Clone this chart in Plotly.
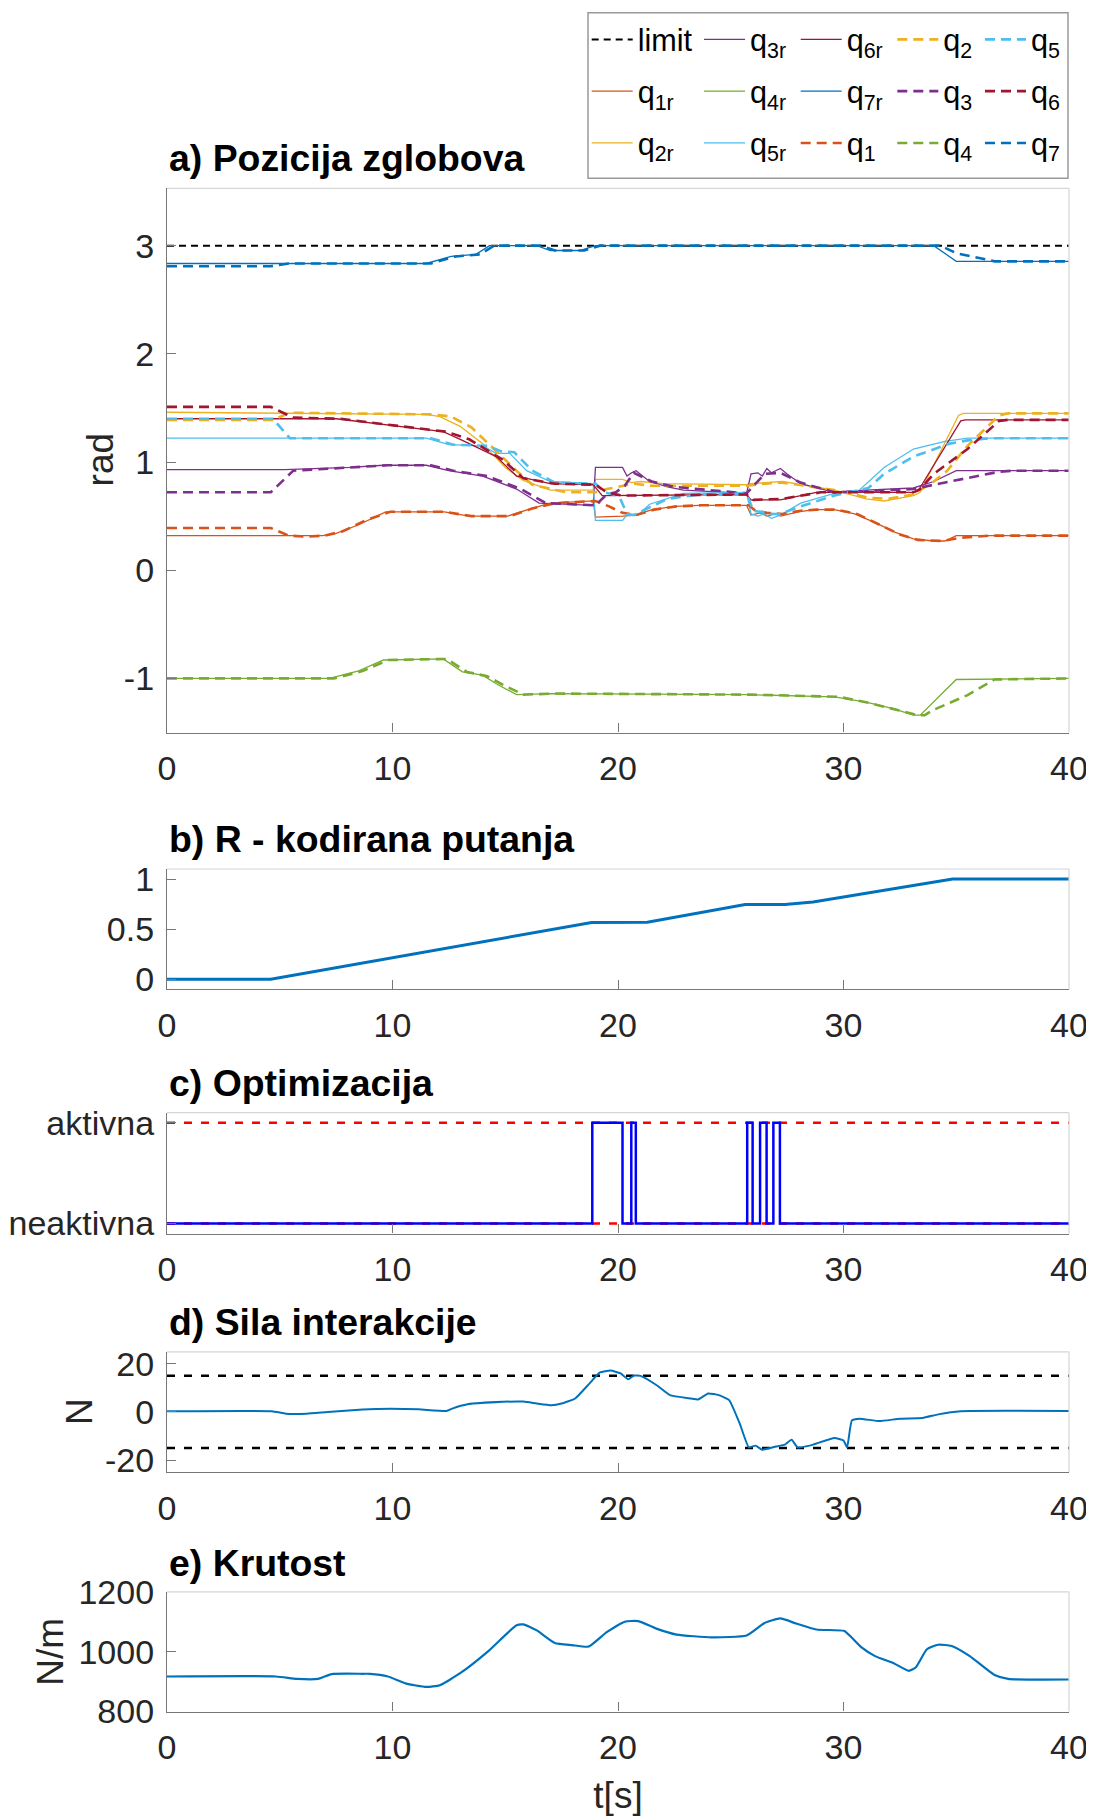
import plotly.graph_objects as go

FONT = "Liberation Sans, Arial, Helvetica, sans-serif"

# ---------------- Panel a: joint positions ----------------
limit_t = [0, 40]
limit_v = [3.0, 3.0]

q1r_t = [0, 6.9, 7.5, 8.5, 9.7, 12.3, 13.4, 15.1, 16.0, 17.0, 18.9, 19.0, 20.2, 20.8, 21.5, 22.5, 23.6, 25.7, 25.9, 26.3, 26.6, 27.0, 27.2, 28.0, 28.7, 29.6, 30.5, 31.5, 32.3, 33.1, 34.0, 34.5, 35.0, 36.0, 40]
q1r_v = [0.32, 0.32, 0.34, 0.42, 0.54, 0.54, 0.50, 0.50, 0.56, 0.62, 0.64, 0.49, 0.50, 0.51, 0.56, 0.59, 0.60, 0.60, 0.51, 0.53, 0.50, 0.52, 0.50, 0.54, 0.56, 0.56, 0.52, 0.43, 0.35, 0.29, 0.27, 0.27, 0.32, 0.32, 0.32]

q2r_t = [0, 8.0, 11.5, 12.1, 13.0, 14.0, 15.0, 15.8, 17.0, 18.9, 19.0, 20.2, 20.6, 21.0, 22.0, 25.7, 25.9, 27.3, 28.1, 29.6, 31.0, 31.8, 33.1, 33.4, 35.1, 35.3, 40]
q2r_v = [1.46, 1.45, 1.44, 1.42, 1.33, 1.17, 0.95, 0.83, 0.74, 0.74, 0.84, 0.84, 0.81, 0.82, 0.80, 0.79, 0.80, 0.82, 0.79, 0.74, 0.66, 0.64, 0.69, 0.72, 1.43, 1.45, 1.45]

q3r_t = [0, 5.2, 8.1, 9.6, 11.5, 12.5, 14.0, 15.5, 16.5, 18.9, 19.0, 20.2, 20.4, 20.6, 20.8, 21.4, 22.2, 22.9, 25.7, 25.9, 26.2, 26.4, 26.6, 26.8, 27.2, 27.5, 28.1, 28.8, 29.6, 31.0, 33.1, 34.0, 35.0, 40]
q3r_v = [0.93, 0.93, 0.95, 0.97, 0.97, 0.92, 0.87, 0.75, 0.62, 0.60, 0.95, 0.95, 0.87, 0.90, 0.92, 0.82, 0.77, 0.74, 0.71, 0.89, 0.90, 0.87, 0.94, 0.90, 0.94, 0.89, 0.80, 0.76, 0.72, 0.74, 0.76, 0.82, 0.92, 0.92]

q4r_t = [0, 7.2, 8.5, 9.6, 12.25, 13.1, 14.0, 14.6, 15.5, 17.0, 25.7, 29.6, 31.0, 32.2, 33.1, 33.4, 35.0, 40]
q4r_v = [-1.0, -1.0, -0.93, -0.83, -0.82, -0.94, -0.97, -1.05, -1.15, -1.14, -1.15, -1.17, -1.22, -1.28, -1.34, -1.34, -1.01, -1.0]

q5r_t = [0, 11.5, 12.5, 14.0, 14.6, 15.2, 15.95, 17.0, 18.9, 19.0, 20.2, 20.4, 20.9, 21.4, 22.9, 25.7, 25.9, 26.2, 26.5, 26.8, 27.2, 28.1, 29.6, 30.7, 31.8, 33.1, 34.5, 35.5, 40]
q5r_v = [1.22, 1.22, 1.16, 1.15, 1.08, 1.08, 0.92, 0.82, 0.80, 0.46, 0.46, 0.51, 0.51, 0.61, 0.71, 0.72, 0.52, 0.50, 0.52, 0.48, 0.51, 0.62, 0.71, 0.74, 0.95, 1.12, 1.19, 1.22, 1.22]

q6r_t = [0, 7.5, 11.5, 12.25, 13.1, 14.6, 15.5, 17.0, 18.9, 19.3, 25.7, 25.9, 27.2, 28.8, 33.1, 33.3, 35.2, 35.4, 40]
q6r_v = [1.40, 1.40, 1.30, 1.28, 1.20, 1.05, 0.87, 0.80, 0.79, 0.69, 0.70, 0.65, 0.65, 0.72, 0.72, 0.73, 1.38, 1.39, 1.39]

q7r_t = [0, 11.5, 12.6, 13.7, 14.3, 16.4, 17.0, 18.3, 19.0, 34.0, 35.0, 40]
q7r_v = [2.835, 2.835, 2.90, 2.92, 3.0, 3.0, 2.955, 2.955, 3.0, 3.0, 2.855, 2.855]

q1_t = [0, 4.6, 5.4, 6.2, 7.0, 7.8, 8.8, 9.9, 12.3, 13.5, 15.2, 16.2, 17.2, 19.0, 19.6, 20.2, 20.8, 21.6, 22.6, 23.7, 25.8, 26.1, 26.6, 27.3, 28.1, 28.8, 29.7, 30.6, 31.6, 32.5, 33.3, 34.4, 35.2, 36.5, 40]
q1_v = [0.39, 0.39, 0.32, 0.31, 0.32, 0.36, 0.46, 0.54, 0.54, 0.50, 0.50, 0.57, 0.62, 0.64, 0.59, 0.53, 0.51, 0.56, 0.59, 0.60, 0.60, 0.55, 0.53, 0.52, 0.55, 0.56, 0.56, 0.52, 0.42, 0.33, 0.28, 0.27, 0.30, 0.32, 0.32]

q2_t = [0, 4.7, 5.45, 8.0, 11.8, 12.6, 13.5, 14.5, 15.5, 16.2, 17.7, 19.0, 19.5, 20.7, 21.5, 25.7, 26.5, 27.2, 28.0, 29.6, 31.1, 32.0, 33.1, 33.4, 34.0, 34.6, 35.5, 36.9, 37.3, 40]
q2_v = [1.39, 1.39, 1.456, 1.45, 1.44, 1.42, 1.32, 1.12, 0.92, 0.79, 0.72, 0.72, 0.75, 0.80, 0.78, 0.78, 0.80, 0.81, 0.79, 0.74, 0.67, 0.66, 0.70, 0.74, 0.82, 0.92, 1.15, 1.43, 1.45, 1.45]

q3_t = [0, 4.6, 5.6, 8.1, 9.8, 11.7, 12.7, 14.2, 15.7, 16.8, 19.0, 19.5, 19.9, 20.3, 20.7, 21.5, 22.5, 25.7, 26.0, 26.5, 27.2, 28.1, 29.6, 33.1, 34.0, 35.5, 36.9, 37.5, 40]
q3_v = [0.72, 0.72, 0.92, 0.95, 0.97, 0.97, 0.92, 0.87, 0.75, 0.62, 0.60, 0.70, 0.72, 0.78, 0.90, 0.82, 0.77, 0.71, 0.78, 0.89, 0.90, 0.81, 0.72, 0.75, 0.79, 0.85, 0.91, 0.92, 0.92]

q4_t = [0, 7.4, 8.7, 9.8, 12.4, 13.3, 14.2, 14.9, 15.8, 17.2, 25.9, 29.8, 31.2, 32.4, 33.3, 33.6, 34.0, 35.5, 36.7, 40]
q4_v = [-1.0, -1.0, -0.93, -0.83, -0.82, -0.94, -0.98, -1.06, -1.15, -1.14, -1.15, -1.17, -1.23, -1.29, -1.34, -1.34, -1.29, -1.155, -1.01, -1.0]

q5_t = [0, 4.7, 5.45, 11.7, 12.7, 14.2, 14.8, 15.4, 16.2, 17.2, 19.0, 19.4, 19.8, 20.1, 20.4, 20.7, 22.2, 23.6, 25.7, 26.0, 26.9, 27.2, 28.1, 29.6, 31.1, 31.8, 33.1, 34.7, 35.5, 36.5, 40]
q5_v = [1.40, 1.40, 1.22, 1.22, 1.16, 1.15, 1.10, 1.09, 0.92, 0.81, 0.80, 0.72, 0.70, 0.66, 0.52, 0.51, 0.66, 0.70, 0.71, 0.55, 0.52, 0.52, 0.59, 0.69, 0.76, 0.89, 1.05, 1.17, 1.20, 1.22, 1.22]

q6_t = [0, 4.6, 5.6, 7.7, 9.6, 11.7, 12.4, 13.4, 14.9, 15.8, 17.2, 19.0, 19.5, 20.2, 25.7, 26.0, 27.3, 29.0, 33.1, 33.4, 34.0, 35.5, 36.9, 37.3, 40]
q6_v = [1.51, 1.51, 1.41, 1.40, 1.35, 1.30, 1.28, 1.21, 1.02, 0.85, 0.80, 0.79, 0.72, 0.69, 0.70, 0.65, 0.66, 0.72, 0.72, 0.75, 0.89, 1.12, 1.38, 1.39, 1.39]

q7_t = [0, 4.6, 5.4, 11.7, 12.8, 13.9, 14.5, 16.6, 17.2, 18.5, 19.2, 34.3, 35.0, 36.0, 36.7, 40]
q7_v = [2.81, 2.81, 2.835, 2.835, 2.90, 2.92, 3.0, 3.0, 2.955, 2.955, 3.0, 3.0, 2.93, 2.885, 2.855, 2.855]

# ---------------- Panel b: R-coded path ----------------
r_t = [0, 4.6, 18.83, 21.3, 25.64, 27.4, 28.65, 30.04, 34.84, 40]
r_v = [0.0, 0.0, 0.566, 0.57, 0.745, 0.745, 0.77, 0.82, 1.0, 1.0]

# ---------------- Panel c: optimization state ----------------
opt_t = [0, 18.86, 20.2, 20.59, 20.79, 25.73, 25.97, 26.3, 26.59, 26.89, 27.18, 40]
opt_v = [0, 1, 0, 1, 0, 1, 0, 1, 0, 1, 0, 0]
opt_ticks = [0, 1]
opt_labels = ["neaktivna", "aktivna"]

# ---------------- Panel d: interaction force ----------------
f_t = [0, 4.65, 5.27, 6.2, 7.13, 8.68, 9.92, 11.16, 12.4, 12.65, 13.33, 14.88, 15.8, 16.4, 17.04, 17.5, 18.1, 18.74, 19.2, 19.67, 20.1, 20.45, 20.7, 21.0, 21.7, 22.3, 23.24, 23.55, 24.0, 24.47, 24.93, 25.4, 25.8, 26.1, 26.4, 27.0, 27.4, 27.7, 27.96, 28.5, 29.6, 30.0, 30.16, 30.37, 30.7, 31.6, 32.5, 33.5, 34.2, 35.2, 40]
f_v = [0.3, 0.3, -0.7, -0.7, 0.0, 1.0, 1.3, 1.1, 0.4, 1.4, 3.2, 4.2, 4.3, 3.5, 2.8, 3.5, 5.6, 11.9, 16.4, 17.2, 16.1, 13.6, 15.1, 15.0, 11.2, 7.0, 5.6, 5.2, 7.7, 7.0, 4.9, -4.9, -14.7, -14.0, -15.7, -14.4, -13.6, -11.5, -14.7, -14.0, -10.8, -11.9, -14.7, -3.5, -2.8, -3.8, -2.8, -2.5, -1.0, 0.3, 0.4]
f_limit = 15

# ---------------- Panel e: stiffness ----------------
k_t = [0, 4.83, 5.76, 6.7, 7.3, 8.7, 9.0, 9.8, 10.58, 11.5, 12.1, 13.0, 14.25, 15.5, 15.8, 16.4, 17.2, 17.96, 18.7, 19.5, 20.3, 20.9, 21.7, 22.6, 24.15, 25.7, 26.5, 27.2, 27.9, 28.8, 30.04, 30.35, 30.8, 31.4, 32.2, 32.9, 33.2, 33.7, 34.2, 34.8, 35.6, 36.7, 37.3, 40]
k_v = [917, 917, 909, 909, 925, 926, 926, 917, 894, 882, 888, 928, 1002, 1088, 1091, 1071, 1029, 1022, 1017, 1065, 1100, 1102, 1077, 1057, 1048, 1054, 1096, 1111, 1094, 1074, 1069, 1048, 1014, 985, 962, 936, 947, 1008, 1023, 1019, 985, 922, 909, 907]

x_ticks = [0, 10, 20, 30, 40]
x_labels = ["0", "10", "20", "30", "40"]

COL = {1: "#D95319", 2: "#EDB120", 3: "#7E2F8E", 4: "#77AC30",
       5: "#4DBEEE", 6: "#A2142F", 7: "#0072BD"}

fig = go.Figure()

legend_names = ["legend", "legend2", "legend3", "legend4", "legend5"]
entries = [("limit", limit_t, limit_v, "#000000", "7px,5px", 2.0)]
sol = {1: (q1r_t, q1r_v), 2: (q2r_t, q2r_v), 3: (q3r_t, q3r_v), 4: (q4r_t, q4r_v),
       5: (q5r_t, q5r_v), 6: (q6r_t, q6r_v), 7: (q7r_t, q7r_v)}
das = {1: (q1_t, q1_v), 2: (q2_t, q2_v), 3: (q3_t, q3_v), 4: (q4_t, q4_v),
       5: (q5_t, q5_v), 6: (q6_t, q6_v), 7: (q7_t, q7_v)}
for j in range(1, 8):
    entries.append(("q<sub>%dr</sub>" % j, sol[j][0], sol[j][1], COL[j], "solid", 1.3))
for j in range(1, 8):
    entries.append(("q<sub>%d</sub>" % j, das[j][0], das[j][1], COL[j], "10px,6px", 2.6))

for idx, (name, tt, vv, c, dash, w) in enumerate(entries):
    fig.add_trace(go.Scatter(
        x=tt, y=vv, mode="lines", name=name,
        line=dict(color=c, dash=dash, width=w),
        legend=legend_names[idx // 3], legendgroup="g%d" % idx,
        xaxis="x", yaxis="y"))

fig.add_trace(go.Scatter(x=r_t, y=r_v, mode="lines", showlegend=False,
                         line=dict(color="#0072BD", width=3), xaxis="x2", yaxis="y2"))
for lv in opt_ticks:
    fig.add_trace(go.Scatter(x=[0, 40], y=[lv, lv], mode="lines", showlegend=False,
                             line=dict(color="#FF0000", dash="8px,9px", width=2.5),
                             xaxis="x3", yaxis="y3"))
fig.add_trace(go.Scatter(x=opt_t, y=opt_v, mode="lines", line_shape="hv", showlegend=False,
                         line=dict(color="#0000FF", width=2.5), xaxis="x3", yaxis="y3"))
for lv in (f_limit, -f_limit):
    fig.add_trace(go.Scatter(x=[0, 40], y=[lv, lv], mode="lines", showlegend=False,
                             line=dict(color="#000000", dash="8px,9px", width=2.5),
                             xaxis="x4", yaxis="y4"))
fig.add_trace(go.Scatter(x=f_t, y=f_v, mode="lines", showlegend=False,
                         line=dict(color="#0072BD", width=2, shape="spline", smoothing=0.4),
                         xaxis="x4", yaxis="y4"))
fig.add_trace(go.Scatter(x=k_t, y=k_v, mode="lines", showlegend=False,
                         line=dict(color="#0072BD", width=2.2, shape="spline", smoothing=0.5),
                         xaxis="x5", yaxis="y5"))

# page body adds an 8px offset; all pixel positions below are reference pixels
OFF = 8.0
W, H = 1094.0 - OFF, 1816.0 - OFF
PL = 167.0 - OFF
PR = 1069.0 - OFF
PW = PR - PL

def py(ref_y):
    return 1 - (ref_y - OFF) / H

def px(ref_x):
    return (ref_x - OFF - PL) / PW

panels = [
    (188.3, 732.5, [-1.5, 3.53], [-1, 0, 1, 2, 3], ["-1", "0", "1", "2", "3"], "rad", 100.0),
    (869.0, 989.3, [-0.1, 1.1], [0, 0.5, 1], ["0", "0.5", "1"], None, None),
    (1112.7, 1233.5, [-0.1, 1.1], opt_ticks, opt_labels, None, None),
    (1351.8, 1472.1, [-25, 25], [-20, 0, 20], ["-20", "0", "20"], "N", 80.0),
    (1591.8, 1711.5, [800, 1200], [800, 1000, 1200], ["800", "1000", "1200"], "N/m", 51.0),
]
AX = "#777777"
tickfont = dict(family=FONT, size=34, color="#262626")
layout = dict(width=W, height=H, plot_bgcolor="white", paper_bgcolor="white",
              margin=dict(l=PL, r=W - PR, t=0, b=0, autoexpand=False),
              font=dict(family=FONT, size=34, color="#262626"))
shapes = []
annotations = []
for i, (top, bot, yr, tv, tt_, ytitle, ytx) in enumerate(panels, start=1):
    sx = "" if i == 1 else str(i)
    xd = dict(
        domain=[0, 1], range=[0, 40], tickvals=x_ticks, ticktext=x_labels, anchor="y" + sx,
        ticks="inside", ticklen=9, tickwidth=1.3, tickcolor=AX,
        showline=True, linecolor=AX, linewidth=1.3, showgrid=False, zeroline=False,
        tickfont=tickfont, ticklabelstandoff=6)
    if i == 5:
        xd["title"] = dict(text="t[s]", font=dict(family=FONT, size=37, color="#262626"), standoff=18)
    layout["xaxis" + sx] = xd
    layout["yaxis" + sx] = dict(
        domain=[py(bot), py(top)], range=yr, tickvals=tv, ticktext=tt_, anchor="x" + sx,
        ticks="inside", ticklen=9, tickwidth=1.3, tickcolor=AX,
        showline=True, linecolor=AX, linewidth=1.3, showgrid=False, zeroline=False,
        tickfont=tickfont, ticklabelstandoff=5)
    if ytitle:
        annotations.append(dict(text=ytitle, xref="paper", yref="paper", x=px(ytx), xanchor="center",
                                y=py((top + bot) / 2), yanchor="middle", textangle=-90, showarrow=False,
                                font=dict(family=FONT, size=37, color="#262626")))
    for (x0, y0, x1, y1) in [(0, 1, 1, 1), (1, 0, 1, 1)]:
        shapes.append(dict(type="line", xref="x%s domain" % sx, yref="y%s domain" % sx,
                           x0=x0, y0=y0, x1=x1, y1=y1, line=dict(color="#d6d6d6", width=1.2)))

# legend box
shapes.append(dict(type="rect", xref="paper", yref="paper", layer="below",
                   x0=px(588), x1=px(1068), y0=py(178.3), y1=py(12.7),
                   line=dict(color="#999999", width=1.5), fillcolor="white"))
layout["shapes"] = shapes

leg_left = [586.7, 699.0, 795.7, 892.3, 980.0]
for name, lx in zip(legend_names, leg_left):
    layout[name] = dict(x=px(lx), xanchor="left", y=py(13.0), yanchor="top",
                        orientation="v", bgcolor="rgba(0,0,0,0)", borderwidth=0,
                        itemwidth=41, tracegroupgap=9,
                        font=dict(family=FONT, size=30.6, color="#000000"))

titles = [("a) Pozicija zglobova", 157.5), ("b) R - kodirana putanja", 839.0),
          ("c) Optimizacija", 1083.0), ("d) Sila interakcije", 1322.0), ("e) Krutost", 1563.0)]
for t, yy in titles:
    annotations.append(dict(text="<b>%s</b>" % t, xref="paper", yref="paper", x=0, xanchor="left",
                            y=py(yy), yanchor="middle", showarrow=False,
                            font=dict(family=FONT, size=37.4, color="#000000")))
layout["annotations"] = annotations

fig.update_layout(**layout)
fig.write_html("out.html")
